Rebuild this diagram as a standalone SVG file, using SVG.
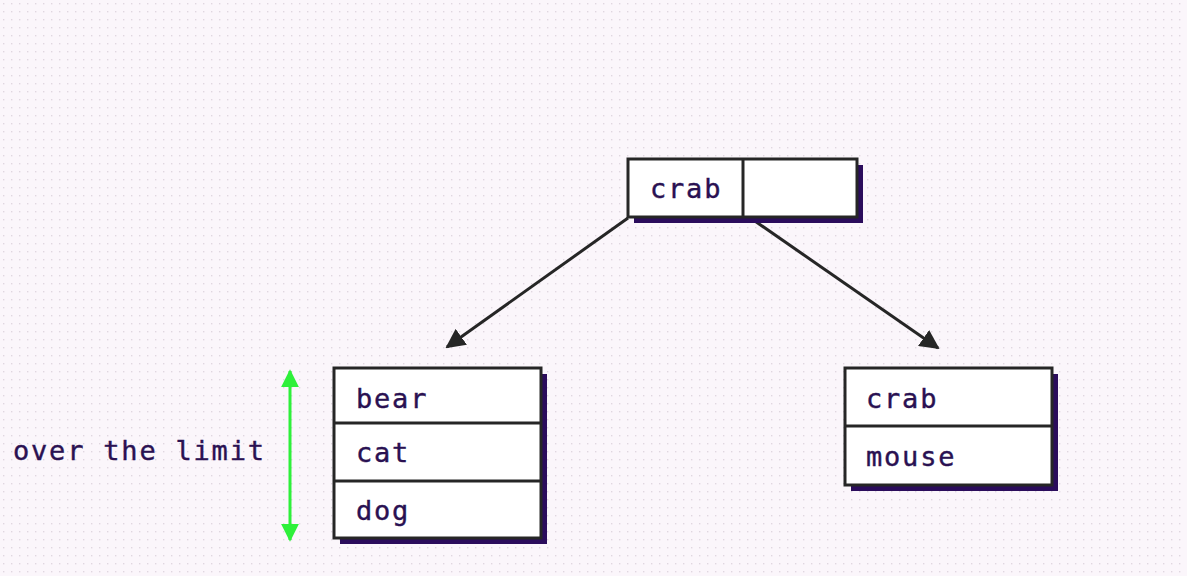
<svg xmlns="http://www.w3.org/2000/svg" width="1187" height="576" viewBox="0 0 1187 576">
<defs>
<pattern id="dots" width="8" height="8" patternUnits="userSpaceOnUse">
<rect x="3" y="3" width="1.4" height="1.4" fill="#e0d7e0"/>
</pattern>
<marker id="ah" viewBox="0 0 10 10" refX="9" refY="5" markerWidth="6.5" markerHeight="6.5" orient="auto-start-reverse" markerUnits="strokeWidth">
<path d="M0,0 L10,5 L0,10 z" fill="#262626"/>
</marker>
<marker id="gh" viewBox="0 0 10 10" refX="9" refY="5" markerWidth="6" markerHeight="6" orient="auto-start-reverse" markerUnits="strokeWidth">
<path d="M0,0 L10,5 L0,10 z" fill="#2ef03a"/>
</marker>
</defs>
<style>
.box{fill:#ffffff;stroke:#262626;stroke-width:3}
.shadow{fill:#2b0c5c}
.div{stroke:#262626;stroke-width:3}
.t{font-family:"DejaVu Sans Mono","Liberation Mono",monospace;font-size:27px;letter-spacing:1.8px;fill:#2a1152;stroke:#2a1152;stroke-width:0.4}
.conn{stroke:#262626;stroke-width:3;fill:none}
</style>
<rect width="1187" height="576" fill="#fbf6fb"/>
<rect width="1187" height="576" fill="url(#dots)"/>

<g id="connectors">
<line class="conn" x1="628" y1="218" x2="447" y2="347" marker-end="url(#ah)"/>
<line class="conn" x1="752" y1="219" x2="938" y2="348" marker-end="url(#ah)"/>
<line x1="290" y1="371" x2="290" y2="540" stroke="#2ef03a" stroke-width="3" marker-start="url(#gh)" marker-end="url(#gh)"/>
</g>

<g id="root">
<rect class="shadow" x="634" y="165" width="229" height="58"/>
<rect class="box" x="628" y="159" width="229" height="58"/>
<line class="div" x1="743" y1="159" x2="743" y2="217"/>
<text class="t" x="650" y="198">crab</text>
</g>

<g id="left">
<rect class="shadow" x="340" y="374" width="207" height="170"/>
<rect class="box" x="334" y="368" width="207" height="170"/>
<line class="div" x1="334" y1="423" x2="541" y2="423"/>
<line class="div" x1="334" y1="481" x2="541" y2="481"/>
<text class="t" x="356" y="408">bear</text>
<text class="t" x="356" y="462">cat</text>
<text class="t" x="356" y="520">dog</text>
</g>

<g id="right">
<rect class="shadow" x="851" y="374" width="207" height="117"/>
<rect class="box" x="845" y="368" width="207" height="117"/>
<line class="div" x1="845" y1="426" x2="1052" y2="426"/>
<text class="t" x="866" y="408">crab</text>
<text class="t" x="866" y="466">mouse</text>
</g>

<g id="label">
<text class="t" x="13" y="460">over the limit</text>
</g>
</svg>
